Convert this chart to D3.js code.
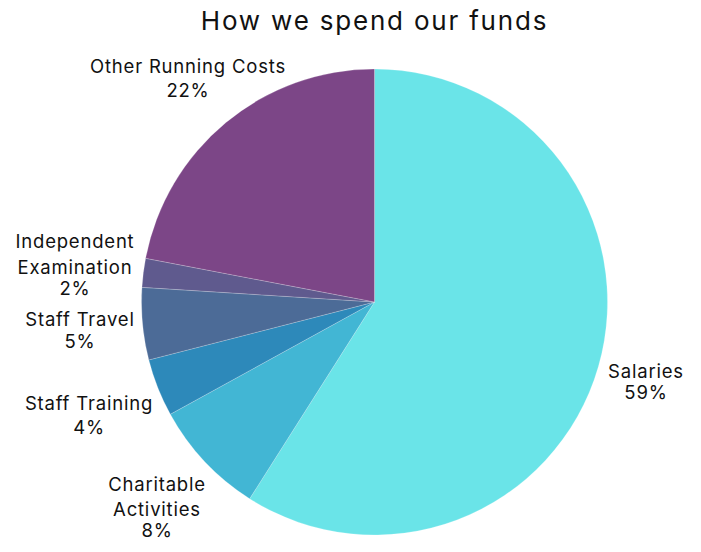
<!DOCTYPE html>
<html>
<head>
<meta charset="utf-8">
<script src="https://cdn.jsdelivr.net/npm/d3@7"></script>
<style>
  html, body { margin: 0; padding: 0; background: #ffffff; }
  svg { display: block; }
  text { font-family: "Inter", "Lato", sans-serif; fill: #111111; }
</style>
</head>
<body>
<svg id="chart" width="701" height="552"></svg>
<script>
// Budget breakdown, clockwise from 12 o'clock
const categories = ["Salaries", "Charitable Activities", "Staff Training", "Staff Travel", "Independent Examination", "Other Running Costs"];
const shares = [59, 8, 4, 5, 2, 22];
const sliceColors = ["#6ae4e8", "#42b6d4", "#2d89ba", "#4c6b97", "#5f5a8e", "#7c4687"];
// Label lines for each slice (name lines followed by the percentage)
const labelLines = [
  ["Salaries"],
  ["Charitable", "Activities"],
  ["Staff Training"],
  ["Staff Travel"],
  ["Independent", "Examination"],
  ["Other Running Costs"]
];

const svg = d3.select("#chart");
const cx = 374.5, cy = 302, radius = 233;

svg.append("text")
  .attr("x", cx)
  .attr("y", 30)
  .attr("text-anchor", "middle")
  .style("font-size", "26px")
  .style("letter-spacing", "1.8px")
  .text("How we spend our funds");

const pie = d3.pie().sort(null).value(d => d);
const arcs = pie(shares);
const arc = d3.arc().innerRadius(0).outerRadius(radius);

const g = svg.append("g").attr("transform", `translate(${cx},${cy})`);

g.selectAll("path")
  .data(arcs)
  .join("path")
  .attr("d", arc)
  .attr("fill", (d, i) => sliceColors[i])
  .attr("stroke", "rgba(255,255,255,0.35)")
  .attr("stroke-width", 0.6);

// Label anchor positions (centre of first text line), placed outside the pie
const labelPos = [
  {x: 646, y: 378, gap: 21},
  {x: 157, y: 491, gap: 25},
  {x: 89, y: 410, gap: 24},
  {x: 80, y: 326, gap: 22},
  {x: 75, y: 248, gap: 26},
  {x: 188, y: 73, gap: 24}
];

arcs.forEach((d, i) => {
  const lines = labelLines[i].concat([shares[i] + "%"]);
  const p = labelPos[i];
  const t = svg.append("text")
    .attr("text-anchor", "middle")
    .style("font-size", "18.5px")
    .style("letter-spacing", "0.8px");
  lines.forEach((ln, k) => {
    // the percentage line sits a little closer under a two-line name
    let y = p.y + k * p.gap;
    if (k === lines.length - 1 && lines.length === 3) y = p.y + (k - 1) * p.gap + 21;
    t.append("tspan").attr("x", p.x).attr("y", y).text(ln);
  });
});
</script>
</body>
</html>
